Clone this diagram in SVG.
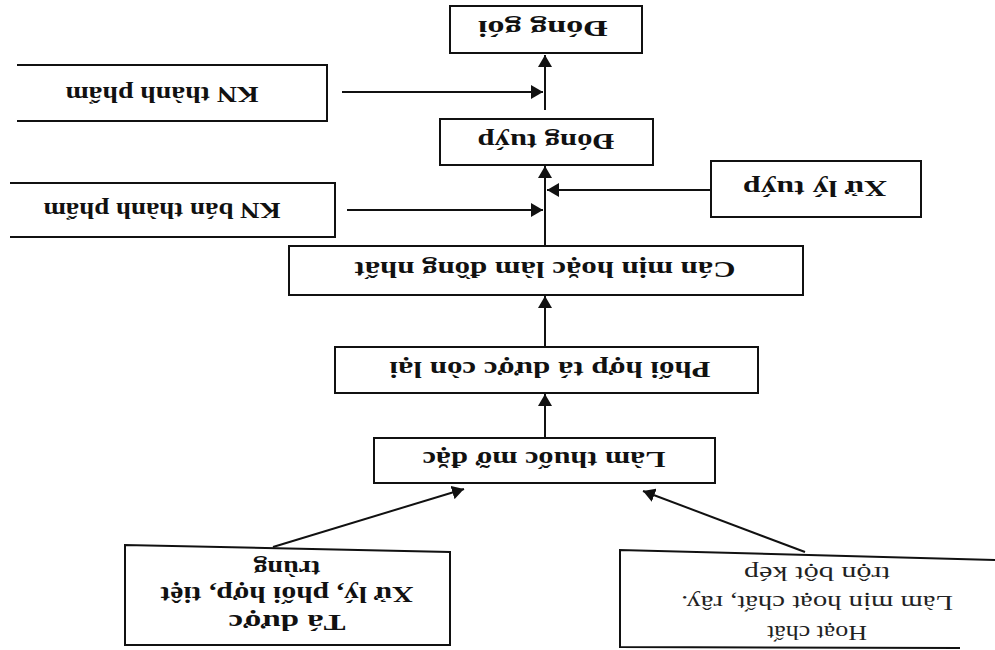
<svg xmlns="http://www.w3.org/2000/svg" width="995" height="650" viewBox="0 0 995 650">
<defs>
<marker id="ah" viewBox="0 0 12 14" refX="12" refY="7" markerWidth="12" markerHeight="14" markerUnits="userSpaceOnUse" orient="auto">
<path d="M0,0 L12,7 L0,14 Z" fill="#111"/>
</marker>
<style>
.box{fill:#fff;stroke:#111;stroke-width:2}
.open{fill:none;stroke:#111;stroke-width:2}
.t{font-family:"Liberation Serif","Times New Roman",serif;font-size:24px;font-weight:bold;fill:#111;text-anchor:middle}
.r{font-family:"Liberation Serif","Times New Roman",serif;font-size:22px;fill:#222;text-anchor:middle}
.c{fill:none;stroke:#111;stroke-width:2;marker-end:url(#ah)}
</style>
</defs>
<rect width="995" height="650" fill="#fff"/>
<g transform="rotate(180 497.5 325)">
<g id="connectors">
<line class="c" x1="450" y1="540" x2="450" y2="595"/>
<line class="c" x1="653" y1="558" x2="452" y2="558"/>
<line class="c" x1="648" y1="440" x2="452" y2="440"/>
<line class="c" x1="284" y1="460" x2="448" y2="460"/>
<line class="c" x1="450" y1="404" x2="450" y2="484"/>
<line class="c" x1="450" y1="303" x2="450" y2="354"/>
<line class="c" x1="450" y1="212" x2="450" y2="256"/>
<line class="c" x1="722" y1="103" x2="531" y2="161"/>
<line class="c" x1="190" y1="98" x2="352" y2="159"/>
</g>
<g id="node-dong-goi">
<rect class="box" x="353" y="597" width="192" height="47"/>
<text class="t" x="452" y="629" textLength="130" lengthAdjust="spacingAndGlyphs">Đóng gói</text>
</g>
<g id="node-kn-thanh-pham">
<path class="open" d="M978,529 L668,529 L668,585 L978,585"/>
<text class="t" x="833" y="563" textLength="193" lengthAdjust="spacingAndGlyphs">KN thành phẩm</text>
</g>
<g id="node-dong-tuyp">
<rect class="box" x="342" y="485" width="213" height="46"/>
<text class="t" x="449" y="516" textLength="137" lengthAdjust="spacingAndGlyphs">Đóng tuýp</text>
</g>
<g id="node-kn-ban-thanh-pham">
<path class="open" d="M985,413 L660,413 L660,467 L985,467"/>
<text class="t" x="833" y="447" textLength="237" lengthAdjust="spacingAndGlyphs">KN bán thành phẩm</text>
</g>
<g id="node-xu-ly-tuyp">
<rect class="box" x="74" y="433" width="210" height="56"/>
<text class="t" x="180" y="469" textLength="144" lengthAdjust="spacingAndGlyphs">Xử lý tuýp</text>
</g>
<g id="node-can-min">
<rect class="box" x="192" y="355" width="514" height="49"/>
<text class="t" x="450" y="388" textLength="381" lengthAdjust="spacingAndGlyphs">Cán mịn hoặc làm đồng nhất</text>
</g>
<g id="node-phoi-hop">
<rect class="box" x="237" y="257" width="423" height="46"/>
<text class="t" x="445" y="288" textLength="321" lengthAdjust="spacingAndGlyphs">Phối hợp tá dược còn lại</text>
</g>
<g id="node-lam-thuoc">
<rect class="box" x="280" y="167" width="341" height="45"/>
<text class="t" x="451" y="198" textLength="243" lengthAdjust="spacingAndGlyphs">Làm thuốc mỡ đặc</text>
</g>
<g id="node-ta-duoc">
<path class="box" d="M545,5 L870,5 L870,105 L545,98 Z"/>
<text class="t" x="708" y="35" textLength="117" lengthAdjust="spacingAndGlyphs">Tá dược</text>
<text class="t" x="708" y="63" textLength="253" lengthAdjust="spacingAndGlyphs">Xử lý, phối hợp, tiệt</text>
<text class="t" x="708" y="89" textLength="67" lengthAdjust="spacingAndGlyphs">trùng</text>
</g>
<g id="node-hoat-chat">
<path class="open" d="M35,2 L375,3 L375,100 L0,90"/>
<text class="r" x="178" y="24" textLength="100" lengthAdjust="spacingAndGlyphs">Hoạt chất</text>
<text class="r" x="178" y="54" textLength="272" lengthAdjust="spacingAndGlyphs">Làm mịn hoạt chất, rây.</text>
<text class="r" x="178" y="83" textLength="146" lengthAdjust="spacingAndGlyphs">trộn bột kép</text>
</g>
</g>
</svg>
